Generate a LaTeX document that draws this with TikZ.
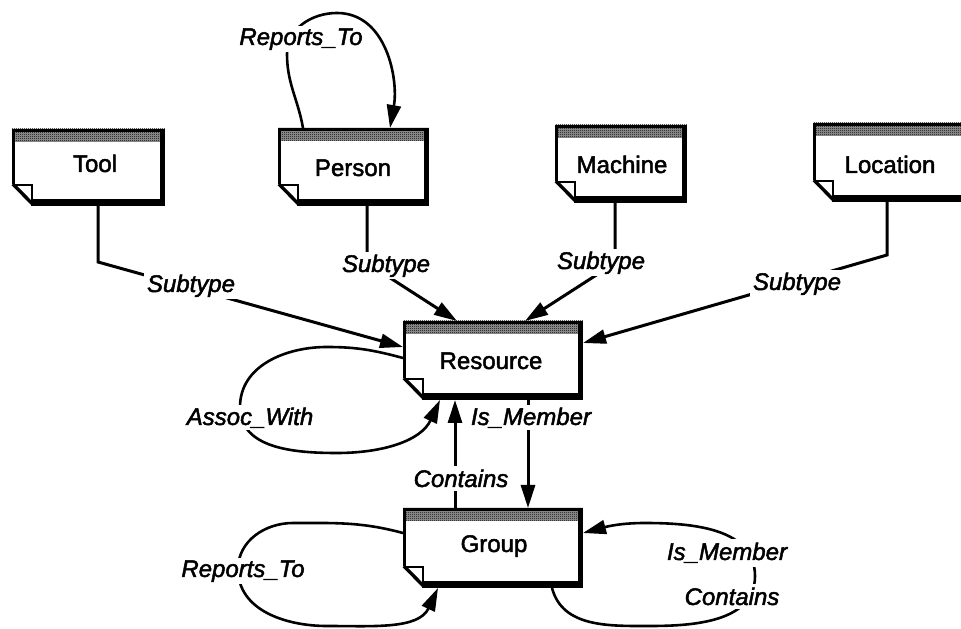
\documentclass[tikz,border=0pt]{standalone}
\usepackage{fontspec}
\setmainfont{Liberation Sans}[FakeBold=2]
\usetikzlibrary{arrows.meta,patterns}
\pgfdeclarepatternformonly{finechecker}{\pgfpointorigin}{\pgfqpoint{2pt}{2pt}}{\pgfqpoint{2pt}{2pt}}{%
  \pgfpathrectangle{\pgfpointorigin}{\pgfqpoint{1pt}{1pt}}%
  \pgfpathrectangle{\pgfqpoint{1pt}{1pt}}{\pgfqpoint{1pt}{1pt}}%
  \pgfusepath{fill}}
\newcommand\docdeco[1]{%
  \fill[white] (#1.north west) -- (#1.north east) -- (#1.south east) -- ([xshift=21pt]#1.south west) -- ([yshift=22pt]#1.south west) -- cycle;
  \fill[black!40] (#1.north west) rectangle ([yshift=-13pt]#1.north east);
  \fill[pattern=finechecker] (#1.north west) rectangle ([yshift=-13pt]#1.north east);
  \draw[line width=2.6pt, line join=miter] ([shift={(1.3pt,22pt)}]#1.south west) -- ([shift={(1.3pt,-1.3pt)}]#1.north west) -- ([shift={(-1pt,-1.3pt)}]#1.north east);
  \fill ([xshift=-5.5pt]#1.north east) rectangle (#1.south east);
  \fill ([xshift=19pt]#1.south west) rectangle ([yshift=7pt]#1.south east);
  \draw[line width=3.4pt] ([shift={(0.8pt,22pt)}]#1.south west) -- ([shift={(21pt,1.5pt)}]#1.south west);
  \draw[line width=2pt, line join=miter] ([shift={(2pt,21pt)}]#1.south west) -- ([shift={(20pt,21pt)}]#1.south west) -- ([shift={(20pt,6pt)}]#1.south west);
}
\begin{document}
\begin{tikzpicture}[x=1pt,y=1pt,
  docbox/.style={draw=none, inner sep=0pt, outer sep=0pt},
  boxtext/.style={font=\fontsize{24pt}{28pt}\selectfont, anchor=base, inner sep=0pt},
  lab/.style={font=\fontsize{24pt}{28pt}\selectfont\itshape, anchor=base, fill=white, inner sep=2.5pt},
  conn/.style={line width=3pt, line join=miter, -{Triangle[length=23pt,width=14pt]}},
  loopc/.style={line width=2.6pt, -{Triangle[length=23pt,width=14pt]}},
]
\useasboundingbox (0,0) rectangle (961,629);
\fill[white] (0,0) rectangle (961,629);

% boxes
\node[docbox, minimum width=153pt, minimum height=77pt] (tool) at (88.5,461.5) {};
\node[docbox, minimum width=151pt, minimum height=78pt] (person) at (353.5,462) {};
\node[docbox, minimum width=132pt, minimum height=78pt] (machine) at (621,465) {};
\node[docbox, minimum width=190pt, minimum height=79pt] (location) at (908,466.5) {};
\node[docbox, minimum width=180pt, minimum height=79pt] (resource) at (493,268.5) {};
\node[docbox, minimum width=180pt, minimum height=80pt] (group) at (493,81) {};

\docdeco{tool}
\docdeco{person}
\docdeco{machine}
\docdeco{location}
\docdeco{resource}
\docdeco{group}

\node[boxtext] (tool-t) at (95,457) {Tool};
\node[boxtext] (person-t) at (353,453) {Person};
\node[boxtext] (machine-t) at (622,456) {Machine};
\node[boxtext] (location-t) at (890,456) {Location};
\node[boxtext] (resource-t) at (491,260) {Resource};
\node[boxtext] (group-t) at (494,77) {Group};

% subtype connectors
\draw[conn] ([xshift=9.5pt]tool.south) -- ++(0,-56) -- ([yshift=13.5pt]resource.west);
\draw[conn] ([xshift=13.5pt]person.south) -- ++(0,-57) -- ([xshift=-36pt]resource.north);
\draw[conn] ([xshift=-6pt]machine.south) -- ++(0,-60) -- ([xshift=32pt]resource.north);
\draw[conn] ([xshift=-21pt]location.south) -- ++(0,-53) -- ([yshift=17.5pt]resource.east);

% self loops
\draw[loopc] ([xshift=-50.5pt]person.north) to[out=100,in=270] (287,575) to[out=90,in=180] (337,616) to[out=0,in=80] ([xshift=36.5pt]person.north);
\draw[loopc] ([yshift=2.5pt]resource.west) to[out=165,in=0] (327,282) to[out=180,in=90] (240,222) to[out=270,in=180] (337,176) to[out=0,in=245] ([xshift=-53pt]resource.south);
\draw[loopc] ([yshift=15pt]group.west) to[out=165,in=0] (293,106) to[out=180,in=90] (238,60) to[out=270,in=180] (327,3) to[out=0,in=245] ([xshift=-55pt]group.south);
\draw[loopc] ([xshift=59pt]group.south) to[out=-75,in=180] (650,3) to[out=0,in=270] (755,53) to[out=90,in=0] (645,106) to[out=180,in=15] ([yshift=15pt]group.east);

% resource <-> group
\draw[conn] ([xshift=-38pt]group.north) -- ([xshift=-38pt]resource.south);
\draw[conn] ([xshift=35pt]resource.south) -- ([xshift=35pt]group.north);

% labels
\node[lab] (l-rep1) at (301,584) {Reports\_To};
\node[lab] (l-sub1) at (191,337) {Subtype};
\node[lab] (l-sub2) at (386,357) {Subtype};
\node[lab] (l-sub3) at (601,360) {Subtype};
\node[lab] (l-sub4) at (797,339) {Subtype};
\node[lab] (l-assoc) at (250,204) {Assoc\_With};
\node[lab] (l-ism1) at (531,204) {Is\_Member};
\node[lab, inner sep=4pt] (l-con1) at (461,142) {Contains};
\node[lab] (l-rep2) at (243,52) {Reports\_To};
\node[lab, inner sep=4pt] (l-ism2) at (727,69) {Is\_Member};
\node[lab, inner sep=4pt] (l-con2) at (732,24) {Contains};
\end{tikzpicture}
\end{document}
